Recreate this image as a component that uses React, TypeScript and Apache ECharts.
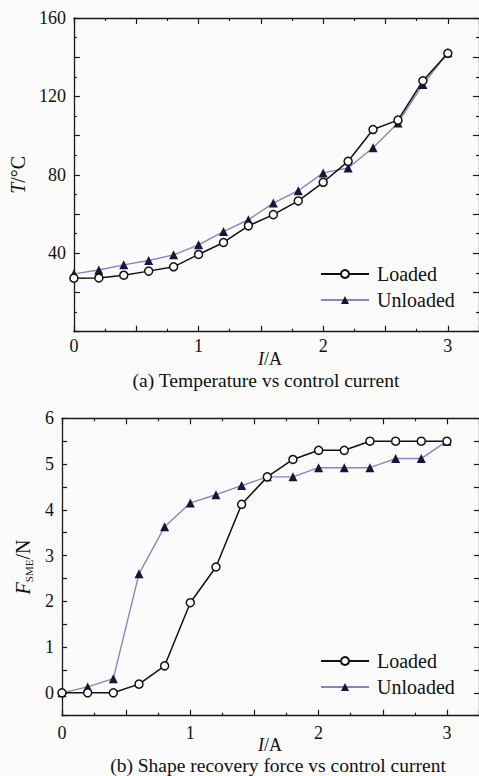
import React, { useEffect, useRef } from "react";
import * as echarts from "echarts";

const currents = [0, 0.2, 0.4, 0.6, 0.8, 1.0, 1.2, 1.4, 1.6, 1.8, 2.0, 2.2, 2.4, 2.6, 2.8, 3.0];
const tempLoaded = [27.3, 27.4, 28.8, 30.9, 33.1, 39.4, 45.5, 54, 59.7, 66.7, 76.2, 86.9, 103.1, 107.9, 128, 142];
const tempUnloaded = [29.5, 31.5, 34.1, 36.3, 39.2, 44.3, 51.1, 57.1, 65.6, 71.9, 81, 83.5, 93.8, 106.5, 126.1, 142.3];
const forceLoaded = [0, 0, 0, 0.19, 0.59, 1.97, 2.75, 4.12, 4.72, 5.1, 5.3, 5.3, 5.5, 5.5, 5.5, 5.5];
const forceUnloaded = [0, 0.13, 0.31, 2.6, 3.63, 4.15, 4.33, 4.53, 4.72, 4.72, 4.92, 4.92, 4.92, 5.12, 5.12, 5.5];
const seriesNames = ["Loaded", "Unloaded"];
const titleA = "(a) Temperature vs control current";
const titleB = "(b) Shape recovery force vs control current";

const FONT = "Liberation Serif";
const AXIS_COLOR = "#1a1a1a";
const BLUE_LINE = "#8486c0";

const pairs = (ys: number[]) => currents.map((x, i) => [x, ys[i]]);
const isInt = (v: number) => Math.abs(v - Math.round(v)) < 1e-6;

function makeX(gridIndex: number, position: "bottom" | "top", showLabel: boolean, margin: number) {
  return {
    type: "value",
    gridIndex,
    position,
    min: 0,
    max: 3.25,
    interval: 0.5,
    axisLine: { show: true, onZero: false, lineStyle: { color: AXIS_COLOR, width: 1.3 } },
    axisTick: { show: true, inside: true, length: 6, lineStyle: { color: AXIS_COLOR, width: 1.2 } },
    minorTick: { show: true, splitNumber: 2, length: 3, lineStyle: { color: AXIS_COLOR, width: 1.2 } },
    splitLine: { show: false },
    axisLabel: {
      show: showLabel,
      margin,
      fontSize: 18,
      fontFamily: FONT,
      color: "#111",
      showMaxLabel: false,
      formatter: (v: number) => (isInt(v) ? String(Math.round(v)) : ""),
    },
  };
}

const xNameRich = {
  i: { fontSize: 18, fontFamily: FONT, fontStyle: "italic", fill: "#111", color: "#111" },
  n: { fontSize: 18, fontFamily: FONT, fill: "#111", color: "#111" },
};

export default function App() {
  const ref = useRef<HTMLDivElement>(null);
  useEffect(() => {
    if (!ref.current) return;
    const chart = echarts.init(ref.current, undefined, { renderer: "svg" });
    const loadedStyle = (xi: number, yi: number, data: number[][]) => ({
      name: seriesNames[0],
      type: "line",
      xAxisIndex: xi,
      yAxisIndex: yi,
      data,
      symbol: "circle",
      symbolSize: 8,
      z: 3,
      lineStyle: { color: "#111", width: 1.5 },
      itemStyle: { color: "#ffffff", borderColor: "#111", borderWidth: 1.5 },
    });
    const unloadedStyle = (xi: number, yi: number, data: number[][]) => ({
      name: seriesNames[1],
      type: "line",
      xAxisIndex: xi,
      yAxisIndex: yi,
      data,
      symbol: "triangle",
      symbolSize: 9,
      z: 2,
      lineStyle: { color: BLUE_LINE, width: 1.4 },
      itemStyle: { color: "#15163a", borderColor: "#15163a", borderWidth: 0 },
    });
    const yLeftA = {
      type: "value",
      gridIndex: 0,
      position: "left",
      min: 0,
      max: 160,
      interval: 20,
      axisLine: { show: true, onZero: false, lineStyle: { color: AXIS_COLOR, width: 1.3 } },
      axisTick: { show: true, inside: true, length: 6, lineStyle: { color: AXIS_COLOR, width: 1.2 } },
      minorTick: { show: true, splitNumber: 2, length: 3, lineStyle: { color: AXIS_COLOR, width: 1.2 } },
      splitLine: { show: false },
      axisLabel: {
        margin: 8,
        fontSize: 18,
        fontFamily: FONT,
        color: "#111",
        formatter: (v: number) => (v > 0 && v % 40 === 0 ? String(v) : ""),
      },
      name: "{i|T}{n|/°C}",
      nameLocation: "middle",
      nameGap: 37,
      nameTextStyle: {
        rich: {
          i: { fontSize: 20, fontFamily: FONT, fontStyle: "italic", color: "#111" },
          n: { fontSize: 20, fontFamily: FONT, color: "#111" },
        },
      },
    };
    const yRightA = {
      ...yLeftA,
      position: "right",
      axisLabel: { show: false },
      name: "",
    };
    const yLeftB = {
      type: "value",
      gridIndex: 1,
      position: "left",
      min: -0.5,
      max: 6,
      interval: 0.5,
      axisLine: { show: true, onZero: false, lineStyle: { color: AXIS_COLOR, width: 1.3 } },
      axisTick: { show: true, inside: true, length: 5, lineStyle: { color: AXIS_COLOR, width: 1.2 } },
      splitLine: { show: false },
      axisLabel: {
        margin: 8,
        fontSize: 18,
        fontFamily: FONT,
        color: "#111",
        formatter: (v: number) => (isInt(v) ? String(Math.round(v)) : ""),
      },
      name: "{i|F}{s|SME}{n|/N}",
      nameLocation: "middle",
      nameGap: 27,
      nameTextStyle: {
        rich: {
          i: { fontSize: 20, fontFamily: FONT, fontStyle: "italic", color: "#111", lineHeight: 22 },
          s: { fontSize: 11, fontFamily: FONT, color: "#111", verticalAlign: "bottom", lineHeight: 14 },
          n: { fontSize: 20, fontFamily: FONT, color: "#111", lineHeight: 22 },
        },
      },
    };
    const yRightB = { ...yLeftB, position: "right", axisLabel: { show: false }, name: "" };
    const legendBase = {
      orient: "vertical",
      left: 315,
      itemWidth: 48,
      itemHeight: 10,
      itemGap: 6,
      textStyle: { fontSize: 20, fontFamily: FONT, color: "#111", padding: [0, 0, 0, 3] },
      data: seriesNames,
    };
    chart.setOption({
      animation: false,
      backgroundColor: "#fbfbfb",
      grid: [
        { left: 62, top: 18, width: 417.4, height: 313.7 },
        { left: 62, top: 418.3, width: 417.4, height: 297.4 },
      ],
      xAxis: [
        makeX(0, "bottom", true, 5),
        makeX(0, "top", false, 5),
        makeX(1, "bottom", true, 8),
        makeX(1, "top", false, 5),
      ],
      yAxis: [yLeftA, yRightA, yLeftB, yRightB],
      legend: [
        { ...legendBase, top: 259 },
        { ...legendBase, top: 646 },
      ],
      series: [
        loadedStyle(0, 0, pairs(tempLoaded)),
        unloadedStyle(0, 0, pairs(tempUnloaded)),
        loadedStyle(2, 2, pairs(forceLoaded)),
        unloadedStyle(2, 2, pairs(forceUnloaded)),
      ],
      graphic: [
        {
          type: "text",
          x: 270,
          y: 358.5,
          style: { text: "{i|I}{n|/A}", rich: xNameRich, align: "center", verticalAlign: "middle" },
        },
        {
          type: "text",
          x: 270,
          y: 745,
          style: { text: "{i|I}{n|/A}", rich: xNameRich, align: "center", verticalAlign: "middle" },
        },
        {
          type: "text",
          x: 266,
          y: 380.5,
          style: { text: titleA, fontSize: 19.5, fontFamily: FONT, fill: "#111", align: "center", verticalAlign: "middle" },
        },
        {
          type: "text",
          x: 278,
          y: 765.5,
          style: { text: titleB, fontSize: 19.5, fontFamily: FONT, fill: "#111", align: "center", verticalAlign: "middle" },
        },
      ],
    });
    return () => chart.dispose();
  }, []);
  return (
    <div
      ref={ref}
      style={{ position: "fixed", left: 0, top: 0, width: 479, height: 776 }}
    />
  );
}
